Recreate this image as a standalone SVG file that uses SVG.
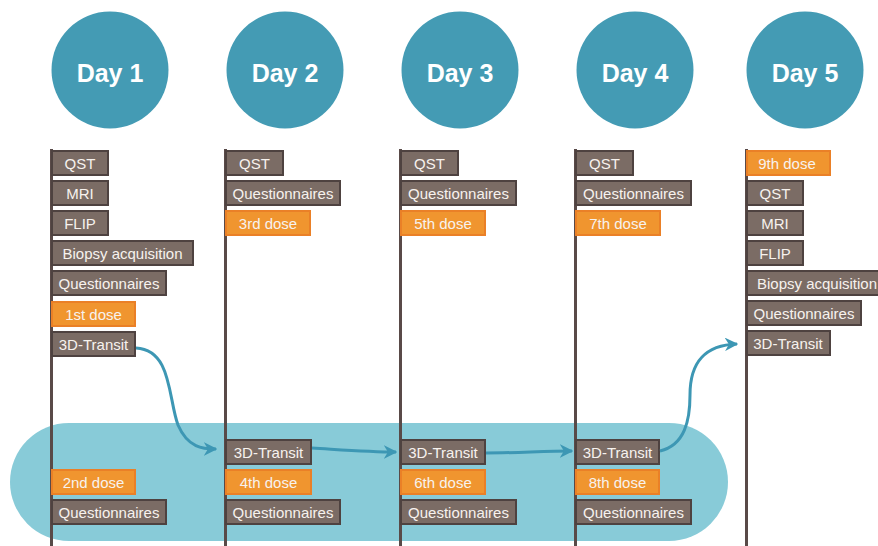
<svg xmlns="http://www.w3.org/2000/svg" width="878" height="546" viewBox="0 0 878 546">
<style>
.circ{fill:#449bb4}
.day{font-family:"Liberation Sans",Arial,sans-serif;font-weight:bold;font-size:25px;fill:#fff;text-anchor:middle}
.vl{stroke:#594a48;stroke-width:3;fill:none}
.b{fill:#7b6c65;stroke:#4e4240;stroke-width:2}
.o{fill:#f0952f;stroke:#ea8027;stroke-width:2}
.t{font-family:"Liberation Sans",Arial,sans-serif;font-size:15px;fill:#f7f2ee;text-anchor:middle}
.c{stroke:#3d97b4;stroke-width:3;fill:none}
</style>
<defs>
<marker id="ah" viewBox="0 0 10 10" refX="9" refY="5" markerWidth="4.5" markerHeight="4.5" orient="auto" markerUnits="strokeWidth">
<path d="M0,0 L10,5 L0,10 L3,5 Z" fill="#3d97b4"/>
</marker>
</defs>
<rect x="10" y="423" width="718" height="118" rx="59" ry="59" fill="#88cbd8"/>
<g id="day1">
<line class="vl" x1="51.5" y1="149" x2="51.5" y2="546"/>
<circle class="circ" cx="110" cy="70" r="58.5"/>
<text class="day" x="110" y="82">Day 1</text>
<rect class="b" x="52" y="151" width="56" height="24"/><text class="t" x="80" y="169">QST</text>
<rect class="b" x="52" y="181" width="56" height="24"/><text class="t" x="80" y="199">MRI</text>
<rect class="b" x="52" y="211" width="56" height="24"/><text class="t" x="80" y="229">FLIP</text>
<rect class="b" x="52" y="241" width="141" height="24"/><text class="t" x="122.5" y="259">Biopsy acquisition</text>
<rect class="b" x="52" y="271" width="114" height="24"/><text class="t" x="109" y="289">Questionnaires</text>
<rect class="o" x="52" y="302" width="83" height="24"/><text class="t" x="93.5" y="320">1st dose</text>
<rect class="b" x="52" y="332" width="83" height="24"/><text class="t" x="93.5" y="350">3D-Transit</text>
<rect class="o" x="52" y="470" width="83" height="24"/><text class="t" x="93.5" y="488">2nd dose</text>
<rect class="b" x="52" y="500" width="114" height="24"/><text class="t" x="109" y="518">Questionnaires</text>
</g>
<g id="day2">
<line class="vl" x1="225.5" y1="149" x2="225.5" y2="546"/>
<circle class="circ" cx="285" cy="70" r="58.5"/>
<text class="day" x="285" y="82">Day 2</text>
<rect class="b" x="226" y="151" width="57" height="24"/><text class="t" x="254.5" y="169">QST</text>
<rect class="b" x="226" y="181" width="114" height="24"/><text class="t" x="283" y="199">Questionnaires</text>
<rect class="o" x="226" y="211" width="84" height="24"/><text class="t" x="268" y="229">3rd dose</text>
<rect class="b" x="226" y="440" width="85" height="24"/><text class="t" x="268.5" y="458">3D-Transit</text>
<rect class="o" x="226" y="470" width="85" height="24"/><text class="t" x="268.5" y="488">4th dose</text>
<rect class="b" x="226" y="500" width="114" height="24"/><text class="t" x="283" y="518">Questionnaires</text>
</g>
<g id="day3">
<line class="vl" x1="400.5" y1="149" x2="400.5" y2="546"/>
<circle class="circ" cx="460" cy="70" r="58.5"/>
<text class="day" x="460" y="82">Day 3</text>
<rect class="b" x="401" y="151" width="57" height="24"/><text class="t" x="429.5" y="169">QST</text>
<rect class="b" x="401" y="181" width="115" height="24"/><text class="t" x="458.5" y="199">Questionnaires</text>
<rect class="o" x="401" y="211" width="84" height="24"/><text class="t" x="443" y="229">5th dose</text>
<rect class="b" x="401" y="440" width="84" height="24"/><text class="t" x="443" y="458">3D-Transit</text>
<rect class="o" x="401" y="470" width="84" height="24"/><text class="t" x="443" y="488">6th dose</text>
<rect class="b" x="401" y="500" width="115" height="24"/><text class="t" x="458.5" y="518">Questionnaires</text>
</g>
<g id="day4">
<line class="vl" x1="575.5" y1="149" x2="575.5" y2="546"/>
<circle class="circ" cx="635" cy="70" r="58.5"/>
<text class="day" x="635" y="82">Day 4</text>
<rect class="b" x="576" y="151" width="57" height="24"/><text class="t" x="604.5" y="169">QST</text>
<rect class="b" x="576" y="181" width="115" height="24"/><text class="t" x="633.5" y="199">Questionnaires</text>
<rect class="o" x="576" y="211" width="84" height="24"/><text class="t" x="618" y="229">7th dose</text>
<rect class="b" x="576" y="440" width="83" height="24"/><text class="t" x="617.5" y="458">3D-Transit</text>
<rect class="o" x="576" y="470" width="83" height="24"/><text class="t" x="617.5" y="488">8th dose</text>
<rect class="b" x="576" y="500" width="115" height="24"/><text class="t" x="633.5" y="518">Questionnaires</text>
</g>
<g id="day5">
<line class="vl" x1="746.5" y1="149" x2="746.5" y2="546"/>
<circle class="circ" cx="805" cy="70" r="58.5"/>
<text class="day" x="805" y="82">Day 5</text>
<rect class="o" x="747" y="151" width="83" height="24"/><text class="t" x="787" y="169">9th dose</text>
<rect class="b" x="747" y="181" width="56" height="24"/><text class="t" x="775" y="199">QST</text>
<rect class="b" x="747" y="211" width="56" height="24"/><text class="t" x="775" y="229">MRI</text>
<rect class="b" x="747" y="241" width="56" height="24"/><text class="t" x="775" y="259">FLIP</text>
<rect class="b" x="747" y="271" width="140" height="24"/><text class="t" x="817" y="289">Biopsy acquisition</text>
<rect class="b" x="747" y="301" width="114" height="24"/><text class="t" x="804" y="319">Questionnaires</text>
<rect class="b" x="747" y="331" width="83" height="24"/><text class="t" x="788" y="349">3D-Transit</text>
</g>
<g id="connectors">
<path class="c" marker-end="url(#ah)" d="M136,348 C172,350 168,398 178,425 C188,448 203,449 216,449"/>
<path class="c" marker-end="url(#ah)" d="M312,448 C345,450 370,452 396,452"/>
<path class="c" marker-end="url(#ah)" d="M486,453 C515,453 545,451 572,451"/>
<path class="c" marker-end="url(#ah)" d="M660,451 C685,445 690,420 690,395 C690,362 705,345 737,344"/>
</g>
</svg>
